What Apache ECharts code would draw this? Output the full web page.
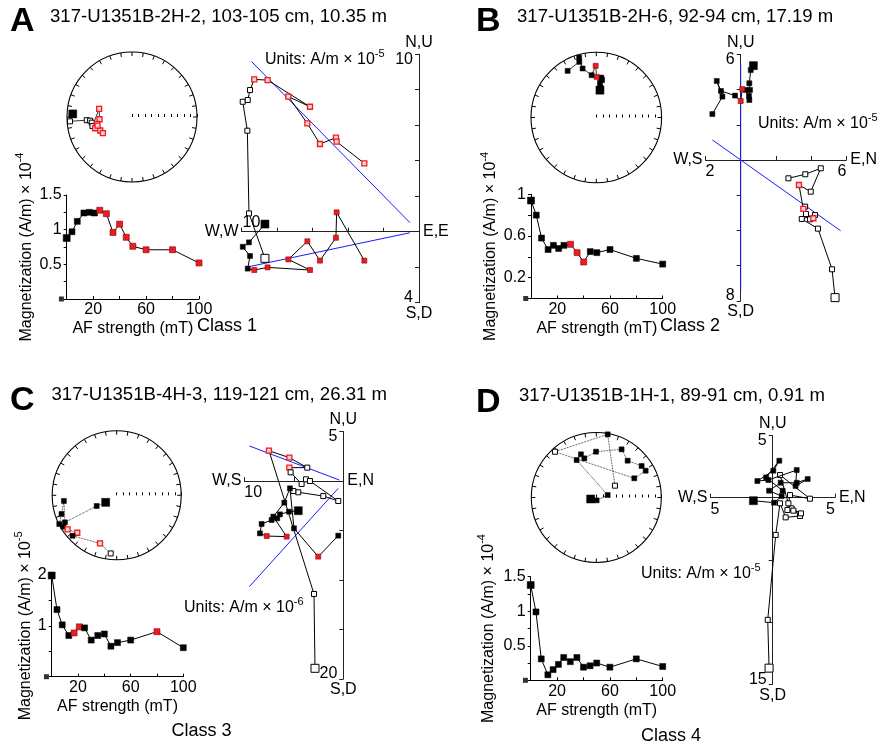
<!DOCTYPE html>
<html><head><meta charset="utf-8">
<script src="https://cdn.jsdelivr.net/npm/echarts/dist/echarts.min.js"></script>
<style>html,body{margin:0;padding:0;background:#fff}#c{width:881px;height:747px}</style>
</head><body><div id="c"></div><script>
// ---------------- DATA ----------------
const afSteps = [0, 4, 8, 13, 17, 21, 25, 30, 35, 40, 45, 50, 60, 80, 100];
const demagCorner = [[-4, 0]];

// Panel A
const magA = [0.88, 0.97, 1.12, 1.24, 1.25, 1.24, 1.28, 1.23, 0.96, 1.08, 0.89, 0.76, 0.71, 0.71, 0.52];
const magRedA = [0,0,0,0,0,0,1,1,1,1,1,1,1,1,1];
const stereoA_r = [0.913,0.956,0.698,0.647,0.625,0.624,0.521,0.501,0.551,0.592,0.531,0.512,0.546];
const stereoA_dec = [273,266,266,265,262,257,284,266,259,253,247,241,256];
const stereoA_lower = [1,0,0,0,0,0,0,0,0,0,0,0,0];
const stereoA_red = [0,0,0,0,0,0,1,1,1,1,1,1,1];
const zijA_vert = [[-8.68,-1.50],[-9.58,1.03],[-9.67,5.69],[-9.93,7.32],[-9.65,7.42],[-9.52,7.98],[-9.28,8.58],[-8.53,8.54],[-6.14,7.04],[-7.36,7.61],[-6.29,6.10],[-5.58,4.94],[-4.68,5.30],[-4.64,5.07],[-3.08,3.85]];
const zijA_vertRed = [0,0,0,0,0,0,1,1,1,1,1,1,1,1,1];
const zijA_horiz = [[-8.68,0.43],[-9.58,-0.60],[-9.93,-0.85],[-9.52,-1.37],[-9.65,-2.08],[-9.28,-2.16],[-8.53,-2.01],[-6.14,-2.16],[-7.36,-1.56],[-6.29,-0.54],[-5.58,-1.63],[-4.68,-0.34],[-4.64,1.09],[-3.08,-1.63]];
const zijA_horizRed = [0,0,0,0,0,1,1,1,1,1,1,1,1,1];
const fitA = [[[-9.43,9.58],[-0.51,0.51]], [[-9.58,-1.97],[-0.51,-0.06]]];

// Panel B
const magB = [0.94, 0.80, 0.58, 0.47, 0.51, 0.48, 0.51, 0.52, 0.44, 0.35, 0.45, 0.44, 0.47, 0.385, 0.33];
const magRedB = [0,0,0,0,0,0,0,1,1,1,0,0,0,0,0];
const stereoB_r = [0.422,0.464,0.446,0.534,0.578,0.616,0.597,0.622,0.791,0.652,0.779,0.954,0.891,0.838];
const stereoB_dec = [7.6,8.2,5.9,6,8.6,6.7,7.9,0.5,359.3,353.7,344.4,344,343,328.4];
const stereoB_lower = [1,1,1,1,1,1,1,1,1,1,1,1,1,1];
const stereoB_red = [0,0,0,0,0,0,0,1,1,0,0,0,0,0];
const zijB_horiz = [[0.72,5.36],[0.57,5.11],[0.49,4.36],[0.53,3.98],[0.47,3.64],[0.49,3.41],[0.28,3.98],[0.09,4.03],[0.0,3.35],[-0.32,3.66],[-1.12,3.92],[-1.36,4.49],[-1.04,3.60],[-1.61,2.61]];
const zijB_horizRed = [0,0,0,0,0,0,0,1,1,0,0,0,0,0];
const zijB_vert = [[5.36,-7.82],[5.19,-6.21],[4.39,-3.90],[3.47,-3.35],[4.22,-3.13],[3.94,-3.37],[4.13,-3.31],[3.71,-3.07],[3.66,-2.65],[3.56,-2.78],[3.31,-1.42],[3.98,-1.80],[4.55,-0.47],[3.67,-0.81],[2.71,-1.04]];
const zijB_vertRed = [0,0,0,0,0,0,1,0,0,1,1,0,0,0,0];
const fitB = [[[0,5.4],[0,-7.4]], [[-1.61,1.14],[5.68,-4.02]]];

// Panel C
const magC = [1.99, 1.32, 1.02, 0.81, 0.86, 0.98, 0.96, 0.72, 0.81, 0.84, 0.60, 0.67, 0.72, 0.885, 0.57];
const magRedC = [0,0,0,0,1,1,0,0,0,0,0,0,0,1,0];
const stereoC_r = [0.203,0.352,0.906,0.823,0.903,0.996,0.961,0.927,0.843,0.928,0.79,0.906];
const stereoC_dec = [237.5,241.9,242.4,263.9,251.3,243.4,239.6,235.2,226.5,227.5,199.1,185.9];
const stereoC_lower = [1,1,1,1,1,1,1,0,0,1,0,0];
const stereoC_red = [0,0,0,0,0,0,0,1,1,0,1,0];
const zijC_vert = [[-2.86,-18.92],[-2.96,-11.41],[-7.51,3.06],[-5.45,2.36],[-3.64,1.35],[-5.45,1.35],[-5.32,0.88],[-4.21,-0.30],[-3.77,0.17],[-3.37,0.0],[-0.51,-2.02],[-2.02,-1.52],[-4.55,-1.14],[-5.05,-1.01]];
const zijC_vertRed = [0,0,1,1,0,1,0,0,0,0,0,0,0,0];
const zijC_horiz = [[-4.55,-3.00],[-5.49,-3.10],[-6.40,-3.37],[-6.67,-3.77],[-7.24,-3.94],[-8.25,-4.34],[-8.42,-5.29],[-7.74,-5.56],[-5.72,-5.62],[-7.07,-3.60],[-5.96,-2.19],[-5.39,-0.74],[-4.98,-4.78],[-2.53,-7.64],[-0.51,-5.52]];
const zijC_horizRed = [0,0,0,0,0,0,0,1,1,0,0,0,0,1,0];
const fitC = [[[-9.49,3.54],[-0.40,0.10]], [[-9.49,-10.67],[-0.51,-0.74]]];

// Panel D
const magD = [1.38, 0.99, 0.31, 0.08, 0.155, 0.23, 0.33, 0.27, 0.33, 0.19, 0.21, 0.25, 0.19, 0.31, 0.20];
const magRedD = [0,0,0,0,0,0,0,0,0,0,0,0,0,0,0];
const stereoD_r = [0.09,0.044,0.179,0.651,0.705,0.63,0.705,0.837,0.744,0.849,0.864,0.655,0.949,0.987,0.34];
const stereoD_dec = [255,173,77.6,332.3,340.4,343,359.6,27.7,40.4,55.2,61.5,63.2,317.9,10.2,57.6];
const stereoD_lower = [1,1,1,1,1,1,1,1,1,1,1,1,0,1,0];
const stereoD_red = [0,0,0,0,0,0,0,0,0,0,0,0,0,0,0];
const zijD_horiz = [[-1.55,-0.24],[0.11,-0.40],[0.72,0.13],[-0.29,0.56],[0.64,1.20],[1.93,1.20],[2.81,1.50],[1.84,0.94],[1.93,2.22],[-0.35,1.42],[-1.23,1.34],[0.05,2.17],[0.53,2.97],[-0.53,1.63],[0.80,0.56]];
const zijD_horizRed = [0,0,0,0,0,0,0,0,0,0,0,0,0,0,0];
const zijD_vert = [[-0.29,-13.69],[-0.40,-9.81],[0.24,-2.99],[0.59,-0.45],[1.04,-1.58],[2.19,-1.47],[1.52,-0.86],[2.27,-1.26],[1.66,-1.04],[1.18,-0.99],[1.39,0.21],[2.99,-0.08],[0.59,1.82],[1.26,-0.45]];
const zijD_vertRed = [0,0,0,0,0,0,0,0,0,0,0,0,0,0];
const fitD = [];

// ---------------- LAYOUT / STYLE ----------------
const FONT = '"Liberation Sans", Arial, Helvetica, sans-serif';
const RED = '#ec1c24';
const BLUE = '#1a1aff';

const panels = [
  { letter:'A', title:'317-U1351B-2H-2, 103-105 cm, 10.35 m', cls:'Class 1', magExp:'-4', unitsExp:'-5',
    mag:magA, magRed:magRedA, yMax:1.5, yInt:0.25, yLabels:[0.5,1,1.5],
    stereo:{r:stereoA_r, dec:stereoA_dec, lower:stereoA_lower, red:stereoA_red, dotted:false},
    zij:{h:zijA_horiz, hRed:zijA_horizRed, v:zijA_vert, vRed:zijA_vertRed, fit:fitA, x:[-10,0], y:[-4,10], step:2, names:['N,U','S,D','W,W','E,E'], xLabAbove:true},
    lay:{letter:[10,22], title:[50,17], cls:[227,326], units:[265,58], polar:[132,117,65], demag:[66.7,195,132.3,104], yGap:32, zij:[241.5,54.2,177.5,248.5]} },
  { letter:'B', title:'317-U1351B-2H-6, 92-94 cm, 17.19 m', cls:'Class 2', magExp:'-4', unitsExp:'-5',
    mag:magB, magRed:magRedB, yMax:1, yInt:0.2, yLabels:[0.2,0.6,1],
    stereo:{r:stereoB_r, dec:stereoB_dec, lower:stereoB_lower, red:stereoB_red, dotted:false},
    zij:{h:zijB_horiz, hRed:zijB_horizRed, v:zijB_vert, vRed:zijB_vertRed, fit:fitB, x:[-2,6], y:[-8,6], step:2, names:['N,U','S,D','W,S','E,N'], xLabAbove:false},
    lay:{letter:[476,22], title:[517,17], cls:[690,326], units:[758,122], polar:[596.3,117.5,65.3], demag:[531,194.3,131.7,104.2], yGap:32, zij:[705.5,54.4,140.8,246.4]} },
  { letter:'C', title:'317-U1351B-4H-3, 119-121 cm, 26.31 m', cls:'Class 3', magExp:'-5', unitsExp:'-6',
    mag:magC, magRed:magRedC, yMax:2, yInt:0.5, yLabels:[1,2],
    stereo:{r:stereoC_r, dec:stereoC_dec, lower:stereoC_lower, red:stereoC_red, dotted:true},
    zij:{h:zijC_horiz, hRed:zijC_horizRed, v:zijC_vert, vRed:zijC_vertRed, fit:fitC, x:[-10,0], y:[-20,5], step:5, names:['N,U','S,D','W,S','E,N'], xLabAbove:false},
    lay:{letter:[10,401], title:[51.5,395], cls:[201.5,731], units:[184,606], polar:[116.7,495.3,64.5], demag:[51.7,575,131.6,101.7], yGap:18, zij:[244.3,431.5,99,247.5]} },
  { letter:'D', title:'317-U1351B-1H-1, 89-91 cm, 0.91 m', cls:'Class 4', magExp:'-4', unitsExp:'-5',
    mag:magD, magRed:magRedD, yMax:1.5, yInt:0.25, yLabels:[0.5,1,1.5],
    stereo:{r:stereoD_r, dec:stereoD_dec, lower:stereoD_lower, red:stereoD_red, dotted:true},
    zij:{h:zijD_horiz, hRed:zijD_horizRed, v:zijD_vert, vRed:zijD_vertRed, fit:fitD, x:[-5,5], y:[-15,5], step:5, names:['N,U','S,D','W,S','E,N'], xLabAbove:false},
    lay:{letter:[476,403], title:[519,396], cls:[671,736], units:[641,572], polar:[596.3,497.5,65], demag:[530.7,576.7,132,103.6], yGap:34, zij:[710.45,435.45,124.5,249]} }
];

function symStyle(filled, red) {
  if (filled) return red ? {color:RED, borderColor:'#8a0000', borderWidth:0.6} : {color:'#000', borderColor:'#000', borderWidth:0.5};
  return red ? {color:'#ffd0d0', borderColor:RED, borderWidth:1.3} : {color:'#fff', borderColor:'#000', borderWidth:1};
}
const near = (a,b) => Math.abs(a-b) < 1e-9;
const fmtNum = v => String(+v.toFixed(2));
const supRich = (base, sup) => ({
  a:{fontSize:base, fontFamily:FONT, color:'#000', fill:'#000', lineHeight:base+4, verticalAlign:'bottom'},
  s:{fontSize:sup, fontFamily:FONT, color:'#000', fill:'#000', lineHeight:sup+1, verticalAlign:'top'}
});

const chart = echarts.init(document.getElementById('c'), null, {width:881, height:747});
const grid=[], xAxis=[], yAxis=[], polar=[], angleAxis=[], radiusAxis=[], series=[];
const labelFont = {fontSize:16, fontFamily:FONT, color:'#000'};
const blackLine = {color:'#000', width:1};

panels.forEach((P, pi) => {
  const L = P.lay;
  // ---- demag curve ----
  const gD = grid.length;
  grid.push({left:L.demag[0], top:L.demag[1], width:L.demag[2], height:L.demag[3], containLabel:false, outerBoundsMode:'none'});
  xAxis.push({gridIndex:gD, type:'value', min:0, max:100, interval:20,
    axisLine:{show:true, onZero:false, lineStyle:blackLine},
    axisTick:{show:true, inside:true, length:3, lineStyle:blackLine},
    axisLabel:Object.assign({margin:3, showMinLabel:true, showMaxLabel:true, formatter:v => (v===20||v===60||v===100)?String(v):''}, labelFont),
    splitLine:{show:false},
    name:'AF strength (mT)', nameLocation:'middle', nameGap:22, nameTextStyle:labelFont});
  yAxis.push({gridIndex:gD, type:'value', min:0, max:P.yMax, interval:P.yInt,
    axisLine:{show:true, onZero:false, lineStyle:blackLine},
    axisTick:{show:true, length:3, lineStyle:blackLine},
    axisLabel:Object.assign({margin:5, showMinLabel:true, showMaxLabel:true, formatter:v => P.yLabels.some(s=>near(s,v))?fmtNum(v):''}, labelFont),
    splitLine:{show:false},
    name:'{a|Magnetization (A/m) × 10}{s|' + P.magExp + '}', nameLocation:'middle', nameGap:L.yGap, nameRotate:90,
    nameTextStyle:{rich:supRich(16,11)}});
  series.push({type:'line', xAxisIndex:gD, yAxisIndex:gD, symbol:'rect', clip:false, animation:false, z:3,
    lineStyle:{color:'#000', width:1},
    data: afSteps.map((x,i)=>({value:[x, P.mag[i]], symbolSize: i===0?7:6, itemStyle: symStyle(true, P.magRed[i]===1)}))});
  series.push({type:'scatter', xAxisIndex:gD, yAxisIndex:gD, symbol:'rect', symbolSize:5, clip:false, animation:false,
    itemStyle:{color:'#000'}, data: demagCorner});

  // ---- Zijderveld ----
  const Z = P.zij;
  const gZ = grid.length;
  P._gz = gZ;
  grid.push({left:L.zij[0], top:L.zij[1], width:L.zij[2], height:L.zij[3], containLabel:false, outerBoundsMode:'none'});
  xAxis.push({gridIndex:gZ, type:'value', min:Z.x[0], max:Z.x[1], interval:Z.step,
    axisLine:{show:true, onZero:true, lineStyle:{color:'#222', width:1}},
    axisTick:{show:true, inside:true, length:4, lineStyle:{color:'#222'}},
    axisLabel:{show:false}, splitLine:{show:false}});
  yAxis.push({gridIndex:gZ, type:'value', min:Z.y[0], max:Z.y[1], interval:Z.step,
    axisLine:{show:true, onZero:true, lineStyle:{color:'#222', width:1}},
    axisTick:{show:true, length:4, lineStyle:{color:'#222'}},
    axisLabel:{show:false}, splitLine:{show:false}});
  Z.fit.forEach(seg => series.push({type:'line', xAxisIndex:gZ, yAxisIndex:gZ, data:seg, symbol:'none', silent:true, animation:false, z:2,
    lineStyle:{color:BLUE, width:1}}));
  series.push({type:'line', xAxisIndex:gZ, yAxisIndex:gZ, symbol:'rect', animation:false, z:3, clip:false,
    lineStyle:{color:'#000', width:1},
    data: Z.v.map((p,i)=>({value:p, symbolSize: i===0?8:5, itemStyle: symStyle(false, Z.vRed[i]===1)}))});
  series.push({type:'line', xAxisIndex:gZ, yAxisIndex:gZ, symbol:'rect', animation:false, z:4, clip:false,
    lineStyle:{color:'#000', width:1},
    data: Z.h.map((p,i)=>({value:p, symbolSize: i===0?8:5, itemStyle: symStyle(true, Z.hRed[i]===1)}))});

  // ---- stereonet ----
  const S = P.stereo;
  polar.push({center:[L.polar[0], L.polar[1]], radius:L.polar[2]});
  angleAxis.push({polarIndex:pi, type:'value', min:0, max:360, interval:10, startAngle:0, clockwise:true,
    axisLine:{show:true, lineStyle:{color:'#000', width:1.1}},
    axisTick:{show:true, inside:true, length:4, lineStyle:{color:'#000', width:1}},
    axisLabel:{show:false}, splitLine:{show:false}, splitArea:{show:false}});
  radiusAxis.push({polarIndex:pi, type:'value', min:0, max:1, interval:0.1,
    axisLine:{show:false}, axisTick:{show:true, length:3, lineStyle:{color:'#000'}},
    axisLabel:{show:false}, splitLine:{show:false}, splitArea:{show:false}});
  series.push({type:'line', coordinateSystem:'polar', polarIndex:pi, symbol:'rect', animation:false, z:3,
    lineStyle:{color:'#000', width:0.8, type: S.dotted ? 'dotted' : 'solid'},
    data: S.r.map((r,i)=>({value:[r, (S.dec[i]+270)%360], symbolSize: i===0?8:5, itemStyle: symStyle(S.lower[i]===1, S.red[i]===1)}))});
});

chart.setOption({animation:false, backgroundColor:'#fff', grid, xAxis, yAxis, polar, angleAxis, radiusAxis, series});

// ---- texts ----
function T(x, y, text, font, align, valign, extra) {
  return {type:'text', x, y, silent:true, z:100,
    style:Object.assign({text, font, fill:'#000', textAlign:align, align, textVerticalAlign:valign, verticalAlign:valign}, extra||{})};
}
const g = [];
panels.forEach(P => {
  const L = P.lay, Z = P.zij;
  g.push(T(L.letter[0], L.letter[1], P.letter, 'bold 34px ' + FONT, 'left', 'middle'));
  g.push(T(L.title[0], L.title[1], P.title, '18.6px ' + FONT, 'left', 'middle'));
  g.push(T(L.cls[0], L.cls[1], P.cls, '18px ' + FONT, 'center', 'middle'));
  g.push(T(L.units[0], L.units[1], '{a|Units: A/m × 10}{s|' + P.unitsExp + '}', '16px ' + FONT, 'left', 'middle', {rich:supRich(16,11)}));
  const px = v => chart.convertToPixel({gridIndex:P._gz}, v);
  const top = px([0, Z.y[1]]), bot = px([0, Z.y[0]]);
  const lft = px([Z.x[0], 0]), rgt = px([Z.x[1], 0]);
  const f = '16px ' + FONT;
  // axis direction names
  g.push(T(top[0], top[1] - 4, Z.names[0], f, 'center', 'bottom'));
  g.push(T(bot[0], bot[1] + 3, Z.names[1], f, 'center', 'top'));
  g.push(T(lft[0] - 3, lft[1], Z.names[2], f, 'right', 'middle'));
  g.push(T(rgt[0] + 4, rgt[1], Z.names[3], f, 'left', 'middle'));
  // axis end values (tick labels at the axis ends)
  if (Z.y[1] !== 0) g.push(T(top[0] - 6, top[1] - 3, String(Math.abs(Z.y[1])), f, 'right', 'top'));
  if (Z.y[0] !== 0) g.push(T(bot[0] - 6, bot[1] + 3, String(Math.abs(Z.y[0])), f, 'right', 'bottom'));
  if (Z.x[0] !== 0) g.push(Z.xLabAbove ? T(lft[0] + 1, lft[1] - 1, String(Math.abs(Z.x[0])), f, 'left', 'bottom')
                                       : T(lft[0], lft[1] + 4, String(Math.abs(Z.x[0])), f, 'left', 'top'));
  if (Z.x[1] !== 0) g.push(T(rgt[0], rgt[1] + 4, String(Math.abs(Z.x[1])), f, 'right', 'top'));
});
chart.setOption({graphic:{elements:g}});
</script></body></html>
